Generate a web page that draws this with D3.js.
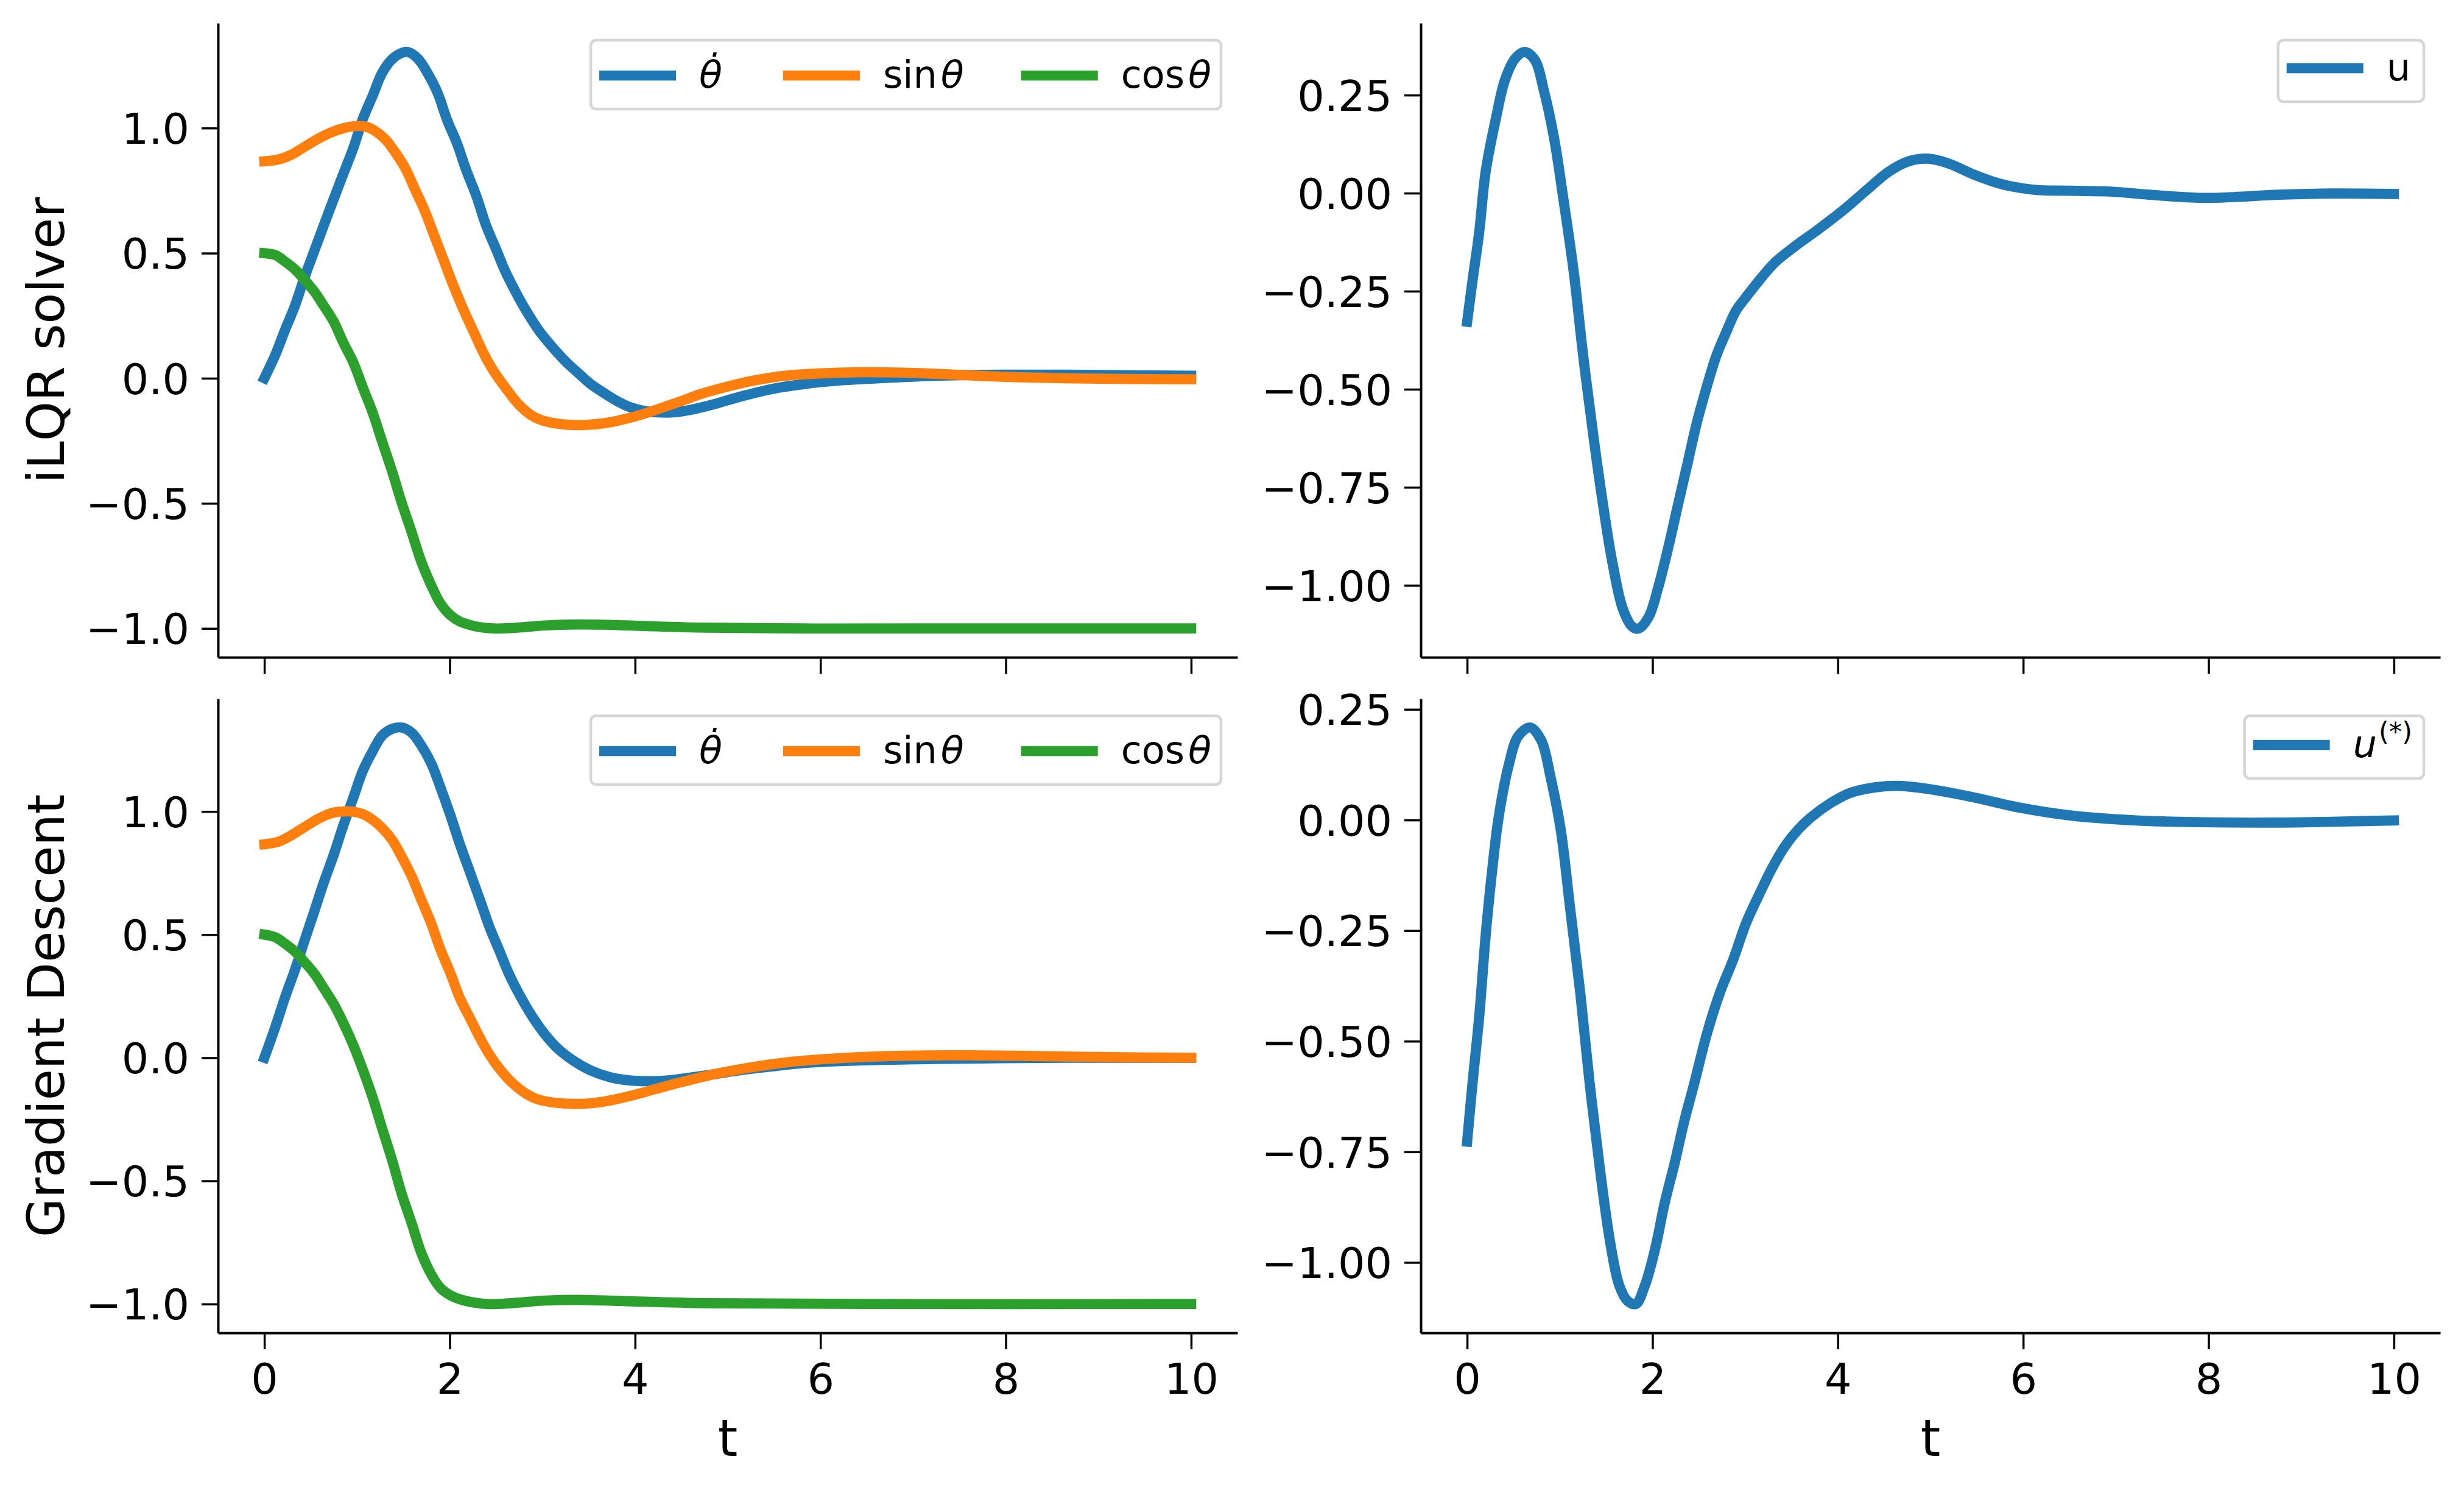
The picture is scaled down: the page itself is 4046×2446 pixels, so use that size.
<!DOCTYPE html>
<html>
<head>
<meta charset="utf-8">
<script src="https://cdn.jsdelivr.net/npm/d3@7"></script>
<style>
  body { margin: 0; background: #fff; }
  svg text { font-family: "DejaVu Sans", sans-serif; fill: #000; }
</style>
</head>
<body>
<script>
// tick values / labels
var tTicks = [0, 2, 4, 6, 8, 10];
var stateTicks = [-1, -0.5, 0, 0.5, 1];
var stateTickLabels = ["\u22121.0", "\u22120.5", "0.0", "0.5", "1.0"];
var ctrlTicks = [-1, -0.75, -0.5, -0.25, 0, 0.25];
var ctrlTickLabels = ["\u22121.00", "\u22120.75", "\u22120.50", "\u22120.25", "0.00", "0.25"];

// iLQR solver, [t, value]
var ilqrThetaDot = [[0,0],[0.12,0.095],[0.22,0.19],[0.33,0.29],[0.43,0.40],[0.54,0.51],[0.64,0.61],[0.75,0.718],[0.85,0.815],[0.96,0.92],[1.06,1.034],[1.17,1.13],[1.27,1.22],[1.38,1.276],[1.48,1.30],[1.55,1.304],[1.66,1.276],[1.76,1.22],[1.87,1.14],[1.97,1.034],[2.08,0.937],[2.18,0.83],[2.29,0.726],[2.39,0.613],[2.5,0.516],[2.6,0.427],[2.71,0.346],[2.82,0.273],[2.96,0.192],[3.1,0.128],[3.24,0.071],[3.38,0.023],[3.52,-0.023],[3.66,-0.058],[3.8,-0.09],[3.94,-0.115],[4.11,-0.131],[4.29,-0.137],[4.43,-0.136],[4.64,-0.123],[4.85,-0.104],[5.13,-0.074],[5.49,-0.042],[5.83,-0.023],[6.18,-0.01],[6.54,-0.002],[7.24,0.01],[7.94,0.014],[8.64,0.014],[9.34,0.012],[10,0.01]];
var ilqrSin = [[0,0.867],[0.15,0.874],[0.29,0.893],[0.43,0.924],[0.57,0.955],[0.71,0.981],[0.85,0.999],[0.99,1.008],[1.1,1.005],[1.2,0.987],[1.31,0.953],[1.41,0.904],[1.52,0.84],[1.62,0.759],[1.73,0.67],[1.83,0.573],[1.94,0.467],[2.04,0.37],[2.15,0.273],[2.26,0.184],[2.36,0.104],[2.47,0.031],[2.61,-0.042],[2.75,-0.107],[2.89,-0.15],[3.03,-0.172],[3.24,-0.185],[3.45,-0.187],[3.66,-0.18],[3.87,-0.165],[4.08,-0.144],[4.29,-0.118],[4.5,-0.091],[4.71,-0.063],[4.99,-0.034],[5.27,-0.01],[5.62,0.01],[5.97,0.019],[6.39,0.024],[6.82,0.023],[7.24,0.018],[7.94,0.006],[8.64,0],[9.34,-0.003],[10,-0.004]];
var ilqrCos = [[0,0.5],[0.12,0.492],[0.22,0.467],[0.33,0.435],[0.43,0.395],[0.54,0.346],[0.64,0.29],[0.75,0.225],[0.85,0.144],[0.96,0.063],[1.06,-0.034],[1.17,-0.139],[1.27,-0.252],[1.38,-0.374],[1.48,-0.495],[1.59,-0.616],[1.69,-0.73],[1.8,-0.827],[1.9,-0.9],[2.01,-0.948],[2.11,-0.972],[2.26,-0.99],[2.47,-1.0],[2.68,-0.998],[3.03,-0.988],[3.38,-0.984],[3.66,-0.985],[4.08,-0.99],[4.78,-0.997],[5.83,-1.0],[7.24,-1.0],[10,-1.0]];
var ilqrU = [[0,-0.328],[0.06,-0.22],[0.13,-0.10],[0.2,0.055],[0.31,0.19],[0.41,0.29],[0.52,0.344],[0.62,0.36],[0.73,0.34],[0.83,0.26],[0.94,0.138],[1.04,-0.017],[1.15,-0.20],[1.25,-0.41],[1.36,-0.615],[1.47,-0.80],[1.57,-0.945],[1.68,-1.06],[1.78,-1.105],[1.85,-1.11],[1.96,-1.08],[2.06,-1.007],[2.17,-0.904],[2.27,-0.80],[2.38,-0.687],[2.48,-0.584],[2.59,-0.49],[2.69,-0.414],[2.8,-0.352],[2.9,-0.30],[3.01,-0.265],[3.15,-0.223],[3.32,-0.177],[3.54,-0.135],[3.78,-0.094],[4.06,-0.043],[4.34,0.014],[4.55,0.055],[4.76,0.081],[4.97,0.088],[5.19,0.076],[5.47,0.047],[5.75,0.024],[6.1,0.009],[6.52,0.006],[6.94,0.004],[7.36,-0.004],[7.92,-0.012],[8.27,-0.01],[8.76,-0.004],[9.32,-0.001],[10,-0.002]];

// Gradient Descent, [t, value]
var gdThetaDot = [[0,0],[0.12,0.127],[0.22,0.242],[0.33,0.357],[0.43,0.472],[0.54,0.596],[0.64,0.711],[0.75,0.826],[0.85,0.941],[0.96,1.056],[1.06,1.163],[1.17,1.246],[1.27,1.308],[1.38,1.336],[1.48,1.341],[1.59,1.32],[1.69,1.27],[1.8,1.196],[1.9,1.098],[2.01,0.982],[2.11,0.867],[2.22,0.752],[2.33,0.637],[2.43,0.53],[2.54,0.431],[2.64,0.34],[2.75,0.258],[2.89,0.168],[3.03,0.094],[3.17,0.036],[3.34,-0.013],[3.52,-0.051],[3.73,-0.079],[3.94,-0.092],[4.15,-0.095],[4.36,-0.092],[4.57,-0.082],[4.85,-0.067],[5.13,-0.051],[5.49,-0.035],[5.83,-0.021],[6.54,-0.01],[7.24,-0.005],[7.94,-0.002],[8.64,0],[10,0]];
var gdSin = [[0,0.867],[0.15,0.877],[0.29,0.903],[0.43,0.936],[0.57,0.968],[0.71,0.992],[0.85,1.0],[0.96,0.999],[1.06,0.99],[1.17,0.966],[1.27,0.933],[1.38,0.884],[1.48,0.818],[1.59,0.736],[1.69,0.645],[1.8,0.546],[1.9,0.44],[2.01,0.341],[2.11,0.242],[2.22,0.16],[2.33,0.078],[2.43,0.012],[2.54,-0.046],[2.68,-0.104],[2.82,-0.145],[2.96,-0.17],[3.17,-0.184],[3.41,-0.187],[3.66,-0.178],[3.94,-0.156],[4.22,-0.127],[4.5,-0.099],[4.85,-0.067],[5.27,-0.038],[5.7,-0.016],[6.19,-0.002],[6.89,0.008],[7.59,0.01],[8.29,0.007],[8.99,0.003],[10,0]];
var gdCos = [[0,0.5],[0.12,0.489],[0.22,0.464],[0.33,0.431],[0.43,0.39],[0.54,0.341],[0.64,0.283],[0.75,0.217],[0.85,0.143],[0.96,0.051],[1.06,-0.046],[1.17,-0.163],[1.27,-0.286],[1.38,-0.418],[1.48,-0.55],[1.59,-0.673],[1.69,-0.789],[1.8,-0.879],[1.9,-0.935],[2.01,-0.965],[2.15,-0.985],[2.4,-1.0],[2.68,-0.996],[3.03,-0.986],[3.38,-0.983],[3.87,-0.988],[4.78,-0.997],[6.54,-1.0],[10,-1.0]];
var gdU = [[0,-0.727],[0.06,-0.591],[0.13,-0.445],[0.2,-0.261],[0.27,-0.114],[0.34,0.006],[0.45,0.125],[0.55,0.189],[0.68,0.209],[0.8,0.18],[0.9,0.097],[1.01,-0.022],[1.11,-0.197],[1.22,-0.389],[1.32,-0.591],[1.43,-0.784],[1.54,-0.95],[1.64,-1.051],[1.73,-1.087],[1.82,-1.094],[1.92,-1.051],[2.03,-0.968],[2.13,-0.867],[2.24,-0.775],[2.34,-0.683],[2.45,-0.596],[2.59,-0.481],[2.73,-0.389],[2.87,-0.316],[3.01,-0.233],[3.15,-0.169],[3.29,-0.109],[3.43,-0.059],[3.57,-0.022],[3.71,0.006],[3.92,0.038],[4.13,0.061],[4.41,0.074],[4.66,0.077],[4.98,0.07],[5.47,0.051],[5.96,0.028],[6.52,0.01],[7.22,-0.001],[7.92,-0.005],[8.62,-0.006],[9.33,-0.004],[10,-0.001]];

var blue = "#1f77b4", orange = "#ff7f0e", green = "#2ca02c";

var W = 4046, H = 2446;
var svg = d3.select("body").append("svg")
    .attr("width", W)
    .attr("height", H);
svg.append("rect").attr("width", W).attr("height", H).attr("fill", "#fff");

// axes boxes in pixels
var colX = [[358, 2032], [2333, 4007]];
var rowY = [[38, 1079], [1147, 2188]];

var stateLegend = [
  {color: blue, spans: [{t: "\u03b8\u0307", it: true}]},
  {color: orange, spans: [{t: "sin"}, {t: "\u03b8", it: true, dx: 6}]},
  {color: green, spans: [{t: "cos"}, {t: "\u03b8", it: true, dx: 6}]}
];

var panels = [
  {r: 0, c: 0, series: [[ilqrThetaDot, blue], [ilqrSin, orange], [ilqrCos, green]],
   ticks: stateTicks, labels: stateTickLabels, ylabel: "iLQR solver", legend: stateLegend, above: 58},
  {r: 0, c: 1, series: [[ilqrU, blue]], ticks: ctrlTicks, labels: ctrlTickLabels,
   legend: [{color: blue, spans: [{t: "u"}]}], above: 46},
  {r: 1, c: 0, series: [[gdThetaDot, blue], [gdSin, orange], [gdCos, green]],
   ticks: stateTicks, labels: stateTickLabels, ylabel: "Gradient Descent", legend: stateLegend, above: 58},
  {r: 1, c: 1, series: [[gdU, blue]], ticks: ctrlTicks, labels: ctrlTickLabels,
   legend: [{color: blue, spans: [{t: "u", it: true}, {t: "(*)", sup: true}]}], above: 48}
];

// matplotlib style 5% margins
function padded(ext) {
  var m = (ext[1] - ext[0]) * 0.05;
  return [ext[0] - m, ext[1] + m];
}

function styleAxis(g) {
  g.selectAll("text")
      .attr("font-size", 70)
      .attr("font-family", "DejaVu Sans")
      .attr("fill", "#000");
  g.select(".domain").attr("stroke", "#000").attr("stroke-width", 4);
  g.selectAll(".tick line").attr("stroke", "#000").attr("stroke-width", 3.5);
}

function drawLegend(items, right, top, above) {
  var lg = svg.append("g");
  var box = lg.append("rect");
  var cx = 14;
  items.forEach(function(it) {
    lg.append("line")
        .attr("x1", cx).attr("x2", cx + 126)
        .attr("y1", above).attr("y2", above)
        .attr("stroke", it.color)
        .attr("stroke-width", 16.7);
    var tx = lg.append("text")
        .attr("x", cx + 126 + 38)
        .attr("y", above + 20)
        .attr("font-size", 62);
    it.spans.forEach(function(s) {
      var ts = tx.append("tspan").text(s.t);
      if (s.it) ts.attr("font-style", "italic");
      if (s.dx) ts.attr("dx", s.dx);
      if (s.sup) ts.attr("font-size", 43).attr("dy", -27).attr("dx", 3);
    });
    cx += 126 + 38 + tx.node().getComputedTextLength() + 100;
  });
  var w = cx - 100 + 22;
  box.attr("x", 0).attr("y", 0)
      .attr("width", w).attr("height", above + 55)
      .attr("rx", 9)
      .attr("fill", "#fff").attr("fill-opacity", 0.8)
      .attr("stroke", "#d6d6d6").attr("stroke-width", 4.5);
  lg.attr("transform", "translate(" + (right - w) + "," + top + ")");
}

panels.forEach(function(p) {
  var xr = colX[p.c], yr = rowY[p.r];
  var x = d3.scaleLinear().domain([-0.5, 10.5]).range(xr);
  var all = [];
  p.series.forEach(function(s) { s[0].forEach(function(d) { all.push(d[1]); }); });
  var y = d3.scaleLinear().domain(padded(d3.extent(all))).range([yr[1], yr[0]]);

  var line = d3.line()
      .x(function(d) { return x(d[0]); })
      .y(function(d) { return y(d[1]); })
      .curve(d3.curveCatmullRom.alpha(0.5));

  p.series.forEach(function(s) {
    svg.append("path")
        .datum(s[0])
        .attr("d", line)
        .attr("fill", "none")
        .attr("stroke", s[1])
        .attr("stroke-width", 16.7)
        .attr("stroke-linecap", "square")
        .attr("stroke-linejoin", "round");
  });

  // y axis
  var ya = svg.append("g")
      .attr("transform", "translate(" + xr[0] + ",0)")
      .call(d3.axisLeft(y).tickValues(p.ticks)
          .tickFormat(function(d, i) { return p.labels[i]; })
          .tickSize(27).tickSizeOuter(0).tickPadding(20));
  styleAxis(ya);
  ya.selectAll("text").attr("dy", "0.36em");

  // x axis, labels only on bottom row
  var xa = svg.append("g")
      .attr("transform", "translate(0," + yr[1] + ")")
      .call(d3.axisBottom(x).tickValues(tTicks)
          .tickFormat(p.r === 1 ? d3.format("d") : function() { return ""; })
          .tickSize(27).tickSizeOuter(0).tickPadding(23));
  styleAxis(xa);

  if (p.ylabel) {
    svg.append("text")
        .attr("transform", "translate(105," + (yr[0] + yr[1]) / 2 + ") rotate(-90)")
        .attr("text-anchor", "middle")
        .attr("font-size", 83)
        .text(p.ylabel);
  }
  if (p.r === 1) {
    svg.append("text")
        .attr("x", (xr[0] + xr[1]) / 2)
        .attr("y", 2390)
        .attr("text-anchor", "middle")
        .attr("font-size", 83)
        .text("t");
  }

  drawLegend(p.legend, xr[1] - 27, yr[0] + 28, p.above);
});
</script>
</body>
</html>
